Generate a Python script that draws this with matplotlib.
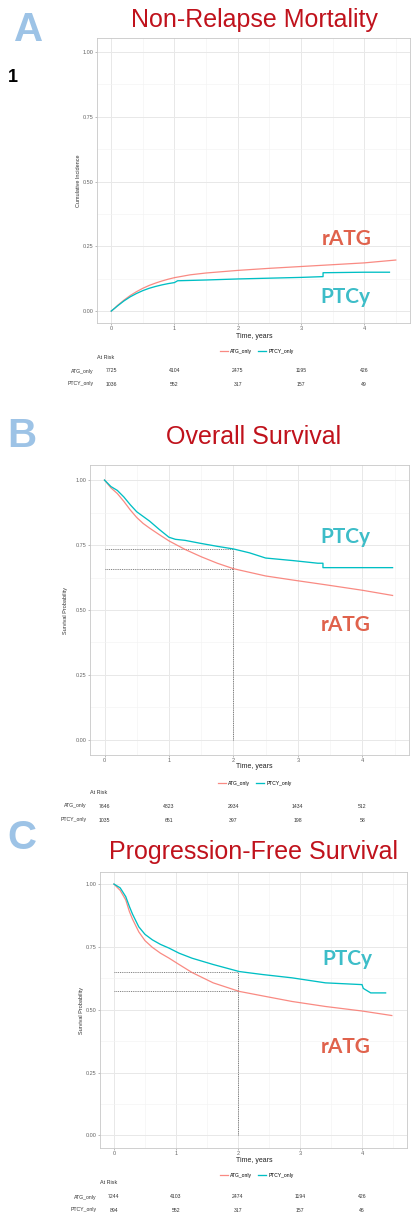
import matplotlib
matplotlib.use("Agg")
import matplotlib.pyplot as plt
from matplotlib.transforms import blended_transform_factory
from matplotlib.ticker import FixedLocator, FormatStrFormatter

# ---------------- data ----------------
panel_letters = ["A", "B", "C"]
panel_titles = ["Non-Relapse Mortality", "Overall Survival", "Progression-Free Survival"]
y_labels = ["Cumulative Incidence", "Survival Probability", "Survival Probability"]
group_names = ["ATG_only", "PTCY_only"]
x_ticks = [0, 1, 2, 3, 4]
y_ticks = [0.0, 0.25, 0.50, 0.75, 1.00]

# Panel A: NRM cumulative incidence
nrm_ratg_t = [0, 0.05, 0.1, 0.15, 0.2, 0.3, 0.4, 0.5, 0.6, 0.7, 0.8, 0.9, 1.0, 1.25, 1.5,
              2.0, 2.5, 3.0, 3.5, 4.0, 4.5]
nrm_ratg_v = [0, 0.010, 0.022, 0.032, 0.042, 0.060, 0.075, 0.088, 0.099, 0.108, 0.116, 0.123,
              0.129, 0.140, 0.147, 0.157, 0.165, 0.172, 0.179, 0.186, 0.197]
nrm_ptcy_t = [0, 0.1, 0.2, 0.3, 0.4, 0.5, 0.6, 0.7, 0.8, 0.9, 1.0, 1.05, 1.5, 2.0, 2.5, 3.0,
              3.35, 3.35, 4.0, 4.4]
nrm_ptcy_v = [0, 0.020, 0.039, 0.055, 0.068, 0.079, 0.088, 0.095, 0.101, 0.106, 0.110, 0.117,
              0.120, 0.124, 0.127, 0.130, 0.133, 0.148, 0.150, 0.150]

# Panel B: overall survival
os_ratg_t = [0, 0.05, 0.1, 0.2, 0.3, 0.4, 0.5, 0.6, 0.7, 0.85, 1.0, 1.25, 1.5, 1.75, 2.0,
             2.5, 2.93, 3.46, 4.0, 4.47]
os_ratg_v = [1.0, 0.985, 0.970, 0.948, 0.918, 0.885, 0.856, 0.833, 0.815, 0.790, 0.766, 0.733,
             0.705, 0.680, 0.659, 0.631, 0.615, 0.596, 0.576, 0.556]
os_ptcy_t = [0, 0.1, 0.2, 0.3, 0.4, 0.5, 0.6, 0.7, 0.85, 1.0, 1.1, 1.25, 1.48, 1.75, 2.0,
             2.25, 2.5, 2.93, 3.31, 3.39, 3.39, 4.47]
os_ptcy_v = [1.0, 0.975, 0.960, 0.935, 0.905, 0.878, 0.860, 0.842, 0.810, 0.780, 0.772, 0.768,
             0.757, 0.745, 0.735, 0.720, 0.700, 0.690, 0.680, 0.680, 0.663, 0.663]

# Panel C: progression-free survival
pfs_ratg_t = [0, 0.1, 0.19, 0.25, 0.3, 0.4, 0.5, 0.62, 0.75, 0.89, 1.05, 1.26, 1.6, 2.02,
              2.4, 2.87, 3.41, 4.0, 4.48]
pfs_ratg_v = [1.0, 0.975, 0.937, 0.890, 0.860, 0.810, 0.775, 0.748, 0.725, 0.705, 0.680, 0.648,
              0.607, 0.573, 0.555, 0.533, 0.513, 0.495, 0.477]
pfs_ptcy_t = [0, 0.1, 0.19, 0.25, 0.3, 0.4, 0.5, 0.62, 0.75, 0.89, 1.05, 1.26, 1.6, 2.02,
              2.4, 2.87, 3.41, 4.0, 4.02, 4.14, 4.38]
pfs_ptcy_v = [1.0, 0.985, 0.950, 0.910, 0.880, 0.830, 0.800, 0.778, 0.760, 0.745, 0.725, 0.705,
              0.680, 0.652, 0.640, 0.627, 0.607, 0.600, 0.585, 0.567, 0.567]

# 2-year reference values (dotted guides)
guide_time = 2
os_guides = [0.735, 0.659]
pfs_guides = [0.650, 0.573]

# at-risk tables
risk_times = [0, 1, 2, 3, 4]
nrm_risk_atg = ["7725", "4104", "2475", "1195", "426"]
nrm_risk_ptcy = ["1036", "552", "317", "157", "49"]
os_risk_atg = ["7646", "4823", "2934", "1434", "512"]
os_risk_ptcy = ["1035", "651", "397", "198", "58"]
pfs_risk_atg = ["7244", "4103", "2474", "1194", "426"]
pfs_risk_ptcy = ["894", "552", "317", "157", "46"]

# ---------------- figure ----------------
W, H = 412, 1216
fig = plt.figure(figsize=(W / 100, H / 100), dpi=100)
fig.patch.set_facecolor("white")

def fx(px):
    return px / W

def fy(py):
    return 1 - py / H

C_RATG = "#F8766D"
C_PTCY = "#00BFC4"
C_RATG_TXT = "#E0624C"
C_PTCY_TXT = "#3DBDC8"
C_TITLE = "#C0121C"
C_LETTER = "#9DC3E6"
SANS = ["Liberation Sans", "DejaVu Sans"]

panels = [
    dict(box=(97, 410, 38, 323), ylim=(-0.046, 1.054),
         ratg=(nrm_ratg_t, nrm_ratg_v), ptcy=(nrm_ptcy_t, nrm_ptcy_v), guides=None,
         risk=(nrm_risk_atg, nrm_risk_ptcy),
         title_y=20, letter=(29, 30), ylab_x=78,
         lab_ratg=(347, 245), lab_ptcy=(345, 303),
         xlab_y=337, leg=(257, 351), risk_y=(358, 371, 384)),
    dict(box=(90, 409, 465, 755), ylim=(-0.058, 1.058),
         ratg=(os_ratg_t, os_ratg_v), ptcy=(os_ptcy_t, os_ptcy_v), guides=os_guides,
         risk=(os_risk_atg, os_risk_ptcy),
         title_y=437, letter=(22, 436), ylab_x=66,
         lab_ratg=(346, 631), lab_ptcy=(345, 543),
         xlab_y=767, leg=(255, 783), risk_y=(792, 806, 820)),
    dict(box=(100, 407, 872, 1148), ylim=(-0.05, 1.048),
         ratg=(pfs_ratg_t, pfs_ratg_v), ptcy=(pfs_ptcy_t, pfs_ptcy_v), guides=pfs_guides,
         risk=(pfs_risk_atg, pfs_risk_ptcy),
         title_y=852, letter=(22, 838), ylab_x=82,
         lab_ratg=(346, 1053), lab_ptcy=(347, 965),
         xlab_y=1161, leg=(257, 1175), risk_y=(1183, 1197, 1210)),
]

fig.text(fx(13), fy(77), "1", fontsize=13, fontweight="bold", color="black",
         ha="center", va="center", family=SANS)

for i, p in enumerate(panels):
    l, r, t, b = p["box"]
    ax = fig.add_axes([fx(l), fy(b), (r - l) / W, (b - t) / H])
    ax.set_xlim(-0.225, 4.725)
    ax.set_ylim(*p["ylim"])
    ax.set_facecolor("white")
    for s in ax.spines.values():
        s.set_color("#c8c8c8")
        s.set_linewidth(0.6)
    ax.xaxis.set_major_locator(FixedLocator(x_ticks))
    ax.xaxis.set_minor_locator(FixedLocator([0.5, 1.5, 2.5, 3.5, 4.5]))
    ax.yaxis.set_major_locator(FixedLocator(y_ticks))
    ax.yaxis.set_minor_locator(FixedLocator([0.125, 0.375, 0.625, 0.875]))
    ax.yaxis.set_major_formatter(FormatStrFormatter("%.2f"))
    ax.grid(which="major", color="#e8e8e8", lw=0.7)
    ax.grid(which="minor", color="#f3f3f3", lw=0.45)
    ax.set_axisbelow(True)
    ax.tick_params(which="major", length=1.5, width=0.4, color="#888888",
                   labelsize=4, labelcolor="#666666", pad=1)
    ax.tick_params(which="minor", length=0)
    for lab in ax.get_xticklabels() + ax.get_yticklabels():
        lab.set_family(SANS)

    # guides
    if p["guides"] is not None:
        g = p["guides"]
        for gv in g:
            ax.plot([0, guide_time], [gv, gv], ls=(0, (1.2, 1.2)), color="#555555", lw=0.55)
        ax.plot([guide_time, guide_time], [0, max(g)], ls=(0, (1.2, 1.2)), color="#555555", lw=0.55)

    h1, = ax.plot(*p["ratg"], color=C_RATG, lw=0.9, alpha=0.85, label=group_names[0])
    h2, = ax.plot(*p["ptcy"], color=C_PTCY, lw=0.95, label=group_names[1])

    # titles & letters
    fig.text(fx(254), fy(p["title_y"]), panel_titles[i], fontsize=18, color=C_TITLE,
             ha="center", va="center", family=SANS)
    fig.text(fx(p["letter"][0]), fy(p["letter"][1]), panel_letters[i], fontsize=29,
             fontweight="bold", color=C_LETTER, ha="center", va="center", family=SANS)

    # y label
    fig.text(fx(p["ylab_x"]), fy((t + b) / 2), y_labels[i], rotation=90, fontsize=4,
             color="#333333", ha="center", va="center", family=SANS)
    # x label
    fig.text(fx(254), fy(p["xlab_y"]), "Time, years", fontsize=5, color="#222222",
             ha="center", va="center", family=SANS)

    # group labels
    fig.text(fx(p["lab_ratg"][0]), fy(p["lab_ratg"][1]), "rATG", fontsize=15,
             fontweight="bold", color=C_RATG_TXT, ha="center", va="baseline",
             family=["Lato", "DejaVu Sans"])
    fig.text(fx(p["lab_ptcy"][0]), fy(p["lab_ptcy"][1]), "PTCy", fontsize=15,
             fontweight="bold", color=C_PTCY_TXT, ha="center", va="baseline",
             family=["Lato", "DejaVu Sans"])

    # legend
    fig.legend(handles=[h1, h2], labels=group_names, loc="center",
               bbox_to_anchor=(fx(p["leg"][0]), fy(p["leg"][1])), ncol=2, frameon=False,
               handlelength=1.6, columnspacing=1.2, handletextpad=0.5,
               prop={"family": SANS, "size": 3.6})

    # at risk table
    ry = p["risk_y"]
    fig.text(fx(l), fy(ry[0]), "At Risk", fontsize=3.9, color="#333333",
             ha="left", va="center", family=SANS)
    tr = blended_transform_factory(ax.transData, fig.transFigure)
    for row, (name, vals) in enumerate(zip(group_names, p["risk"])):
        yy = fy(ry[row + 1])
        fig.text(fx(l - 3), yy, name, fontsize=3.7, color="#333333",
                 ha="right", va="center", family=SANS)
        for tt, v in zip(risk_times, vals):
            ax.text(tt, yy, v, transform=tr, fontsize=3.7, color="#333333",
                    ha="center", va="center", family=SANS, clip_on=False)

fig.savefig("out.png", dpi=100, facecolor="white")
